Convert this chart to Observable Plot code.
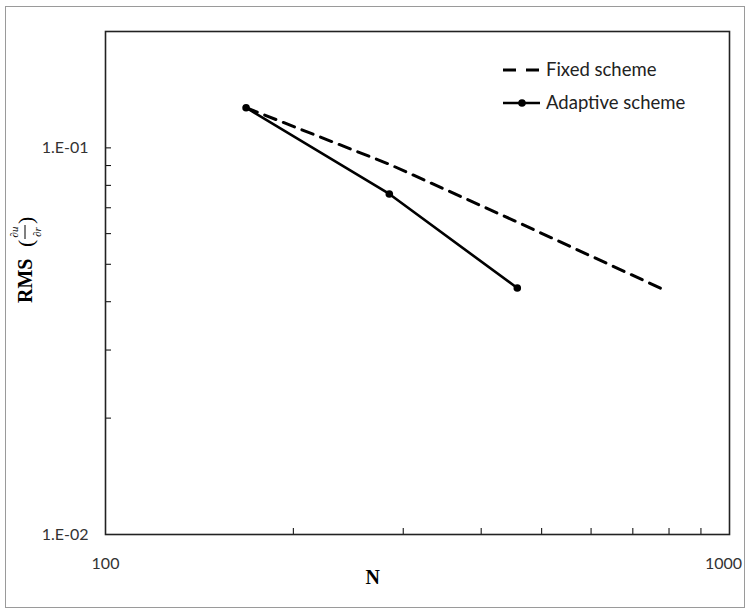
<!DOCTYPE html>
<html><head><meta charset="utf-8">
<script src="https://cdn.jsdelivr.net/npm/d3@7"></script>
<script src="https://cdn.jsdelivr.net/npm/@observablehq/plot@0.6"></script>
<style>
body{margin:0;background:#fff;}
#wrap{position:relative;width:748px;height:611px;}
#border{position:absolute;left:5px;top:6px;width:740px;height:602px;border:1px solid #9a9a9a;box-sizing:border-box;pointer-events:none;}
#wrap svg{position:absolute;left:0;top:0;}
</style></head><body><div id="wrap"><div id="border"></div></div>
<script>
// ---- data ----
const fixedN = [168, 285, 457, 789];
const fixedRMS = [0.127, 0.0907, 0.0643, 0.0428];
const adaptiveN = [168, 285, 457];
const adaptiveRMS = [0.127, 0.076, 0.0434];
const seriesNames = ["Fixed scheme", "Adaptive scheme"];
const yMinorTicks = [0.02, 0.03, 0.04, 0.05, 0.06, 0.07, 0.08, 0.09, 0.1, 0.2];
const xMinorTicks = [200, 300, 400, 500, 600, 700, 800, 900];
const yLabelValues = [0.01, 0.1];
const yLabelTexts = ["1.E-02", "1.E-01"];
const xLabelValues = [100, 1000];
const xLabelTexts = ["100", "1000"];
const xTitle = "N";

const fixed = fixedN.map((n, i) => ({N: n, rms: fixedRMS[i]}));
const adaptive = adaptiveN.map((n, i) => ({N: n, rms: adaptiveRMS[i]}));

const W = 748, H = 611, mL = 105, mR = 19, mT = 31, mB = 77;
const pw = W - mL - mR, ph = H - mT - mB;
const xFmt = d => xLabelTexts[xLabelValues.indexOf(d)];

const chart = Plot.plot({
  width: W, height: H,
  marginLeft: mL, marginRight: mR, marginTop: mT, marginBottom: mB,
  style: {fontFamily: "Lato, 'Open Sans', sans-serif", fontSize: "16px", color: "#333", background: "transparent"},
  x: {type: "log", domain: [100, 1000]},
  y: {type: "log", domain: [0.01, 0.2]},
  marks: [
    Plot.tickY(yMinorTicks, {y: d => d, insetRight: pw - 6, stroke: "#000", strokeWidth: 1}),
    Plot.tickX(xMinorTicks, {x: d => d, insetTop: ph - 6, stroke: "#000", strokeWidth: 1}),
    Plot.axisY(yLabelValues, {tickSize: 0, tickPadding: 17, label: null,
      tickFormat: d => yLabelTexts[yLabelValues.indexOf(d)], fill: "#333"}),
    Plot.axisX(xLabelValues.slice(0, 1), {tickSize: 0, tickPadding: 23, label: null, tickFormat: xFmt, fill: "#333"}),
    Plot.axisX(xLabelValues.slice(1), {tickSize: 0, tickPadding: 23, label: null, tickFormat: xFmt, fill: "#333", dx: -6}),
    Plot.frame({stroke: "#222", strokeWidth: 1.6}),
    Plot.line(fixed, {x: "N", y: "rms", stroke: "#000", strokeWidth: 3, strokeDasharray: "12,8"}),
    Plot.line(adaptive, {x: "N", y: "rms", stroke: "#000", strokeWidth: 2.6}),
    Plot.dot(adaptive, {x: "N", y: "rms", r: 3.8, fill: "#000"}),
    Plot.text([xTitle], {frameAnchor: "bottom-left", text: d => d, dx: 260, dy: 49,
      fontFamily: "'Liberation Serif', 'Times New Roman', serif", fontWeight: "bold", fontSize: 20, fill: "#000"})
  ]
});
document.getElementById("wrap").appendChild(chart);

const svg = d3.select(chart);
// legend
const leg = svg.append("g");
const legY = [70, 103];
seriesNames.forEach((name, i) => {
  const g = leg.append("g").attr("transform", `translate(503,${legY[i]})`);
  g.append("line").attr("x1", 0).attr("x2", 37).attr("y1", 0).attr("y2", 0)
    .attr("stroke", "#000").attr("stroke-width", i === 0 ? 3 : 2.6)
    .attr("stroke-dasharray", i === 0 ? "13,10" : null);
  if (i === 1) g.append("circle").attr("cx", 19).attr("cy", 0).attr("r", 3.8).attr("fill", "#000");
  g.append("text").attr("x", 43).attr("y", 0).attr("dy", "0.35em").attr("text-anchor", "start")
    .attr("font-family", "Lato, 'Open Sans', sans-serif").attr("font-size", 18.5).attr("fill", "#222")
    .text(name);
});
// y-axis title: RMS (∂u/∂r)
const serif = "'Liberation Serif', 'Times New Roman', serif";
const yt = svg.append("g").attr("transform", "translate(25,303) rotate(-90)").attr("text-anchor", "start");
yt.append("text").attr("x", 0).attr("y", 7).attr("font-family", serif).attr("font-weight", "bold")
  .attr("font-size", 20).attr("fill", "#000").text("RMS");
yt.append("text").attr("x", 56).attr("y", 8).attr("font-family", serif).attr("font-size", 22).attr("fill", "#000").text("(");
yt.append("text").attr("x", 79).attr("y", 8).attr("font-family", serif).attr("font-size", 22).attr("fill", "#000").text(")");
yt.append("text").attr("x", 71).attr("y", -7).attr("text-anchor", "middle").attr("font-family", serif)
  .attr("font-style", "italic").attr("font-size", 11).attr("fill", "#000").text("∂u");
yt.append("line").attr("x1", 64).attr("x2", 78).attr("y1", 0).attr("y2", 0).attr("stroke", "#000").attr("stroke-width", 1);
yt.append("text").attr("x", 71).attr("y", 16).attr("text-anchor", "middle").attr("font-family", serif)
  .attr("font-style", "italic").attr("font-size", 11).attr("fill", "#000").text("∂r");
</script>
</body></html>
